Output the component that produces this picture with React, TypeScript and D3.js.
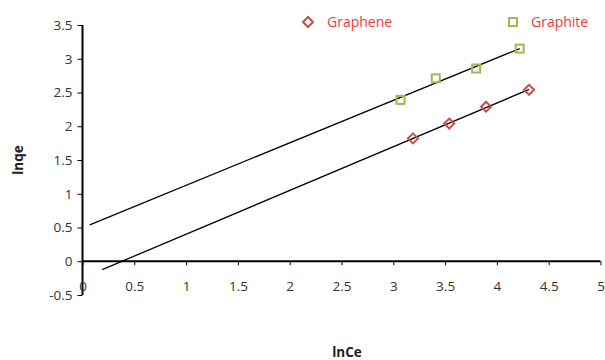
import React, { useEffect, useRef } from 'react';
import * as d3 from 'd3';

// values
const grapheneX = [3.19, 3.54, 3.895, 4.31];
const grapheneY = [1.82, 2.04, 2.29, 2.54];
const graphiteX = [3.07, 3.41, 3.8, 4.22];
const graphiteY = [2.39, 2.71, 2.855, 3.15];
const xTicks = [0, 0.5, 1, 1.5, 2, 2.5, 3, 3.5, 4, 4.5, 5];
const yTicks = [-0.5, 0, 0.5, 1, 1.5, 2, 2.5, 3, 3.5];
const backwardForecast = 3;

const W = 605;
const H = 360;

// least squares fit, like Excel's linear trendline
function fit(xs: number[], ys: number[]) {
  const mx = d3.mean(xs) || 0;
  const my = d3.mean(ys) || 0;
  let sxy = 0, sxx = 0;
  xs.forEach((x, i) => {
    sxy += (x - mx) * (ys[i] - my);
    sxx += (x - mx) * (x - mx);
  });
  const slope = sxy / sxx;
  return { slope, intercept: my - slope * mx };
}

const App: React.FC = () => {
  const svgRef = useRef<SVGSVGElement | null>(null);

  useEffect(() => {
    document.body.style.margin = '0';
    if (!svgRef.current) return;
    const svg = d3.select(svgRef.current);
    svg.selectAll('*').remove();

    const x = d3.scaleLinear().domain([0, 5]).range([82.5, 600.5]);
    const y = d3.scaleLinear().domain([-0.5, 3.5]).range([295, 25]);
    const font = '"Open Sans", sans-serif';
    const fmt = (d: any) => String(d); // plain hyphen minus, like Excel

    // y axis
    const yAxis = svg.append('g')
      .attr('transform', `translate(${x(0)},0)`)
      .call(d3.axisLeft(y).tickValues(yTicks).tickSize(5).tickPadding(5).tickFormat(fmt));
    yAxis.select('.domain').attr('stroke', '#000').attr('stroke-width', 2).attr('d', `M0,${y(-0.5)}V${y(3.5)}`);
    yAxis.selectAll('.tick line').attr('stroke', '#000');
    yAxis.selectAll('.tick text').attr('fill', '#333').style('font', `13.5px ${font}`);

    // x axis at y=0
    const xAxis = svg.append('g')
      .attr('transform', `translate(0,${y(0)})`)
      .call(d3.axisBottom(x).tickValues(xTicks).tickSize(4).tickPadding(16).tickFormat(fmt));
    xAxis.select('.domain').attr('stroke', '#000').attr('stroke-width', 2).attr('d', `M${x(0)},0H${x(5)}`);
    xAxis.selectAll('.tick line').attr('stroke', '#000');
    xAxis.selectAll('.tick text').attr('fill', '#333').style('font', `13.5px ${font}`);

    // trendlines
    const line = d3.line<number>().x(d => x(d[0])).y(d => y(d[1]));
    [[grapheneX, grapheneY], [graphiteX, graphiteY]].forEach(([xs, ys]) => {
      const f = fit(xs, ys);
      const x0 = (d3.min(xs) || 0) - backwardForecast;
      const x1 = d3.max(xs) || 0;
      svg.append('path')
        .attr('d', line([[x0, f.intercept + f.slope * x0], [x1, f.intercept + f.slope * x1]] as any))
        .attr('fill', 'none')
        .attr('stroke', '#000')
        .attr('stroke-width', 1.3);
    });

    // graphene diamonds
    const diamond = (cx: number, cy: number, r: number) =>
      `M${cx},${cy - r}L${cx + r},${cy}L${cx},${cy + r}L${cx - r},${cy}Z`;
    svg.append('g').selectAll('path')
      .data(grapheneX.map((d, i) => [d, grapheneY[i]]))
      .join('path')
      .attr('d', d => diamond(x(d[0]), y(d[1]), 5))
      .attr('fill', 'none')
      .attr('stroke', '#c0504d')
      .attr('stroke-width', 2);

    // graphite squares
    svg.append('g').selectAll('rect')
      .data(graphiteX.map((d, i) => [d, graphiteY[i]]))
      .join('rect')
      .attr('x', d => x(d[0]) - 4)
      .attr('y', d => y(d[1]) - 4)
      .attr('width', 8)
      .attr('height', 8)
      .attr('fill', 'none')
      .attr('stroke', '#9bbb59')
      .attr('stroke-width', 2);

    // legend
    const legend = svg.append('g');
    legend.append('path')
      .attr('d', diamond(308, 22, 5))
      .attr('fill', 'none').attr('stroke', '#c0504d').attr('stroke-width', 2);
    legend.append('text')
      .attr('x', 327).attr('y', 27)
      .attr('fill', '#ee3b3b').style('font', `14px ${font}`)
      .text('Graphene');
    legend.append('rect')
      .attr('x', 509).attr('y', 18).attr('width', 8).attr('height', 8)
      .attr('fill', 'none').attr('stroke', '#9bbb59').attr('stroke-width', 2);
    legend.append('text')
      .attr('x', 531).attr('y', 27)
      .attr('fill', '#ee3b3b').style('font', `14px ${font}`)
      .text('Graphite');

    // axis titles
    svg.append('text')
      .attr('x', 347).attr('y', 357)
      .attr('text-anchor', 'middle')
      .attr('fill', '#222')
      .style('font', `bold 13.5px ${font}`)
      .text('lnCe');
    svg.append('text')
      .attr('transform', 'translate(23,160) rotate(-90)')
      .attr('text-anchor', 'middle')
      .attr('fill', '#222')
      .style('font', `bold 13.5px ${font}`)
      .text('lnqe');
  }, []);

  return <svg ref={svgRef} width={W} height={H} style={{ display: 'block' }}></svg>;
};

export default App;
